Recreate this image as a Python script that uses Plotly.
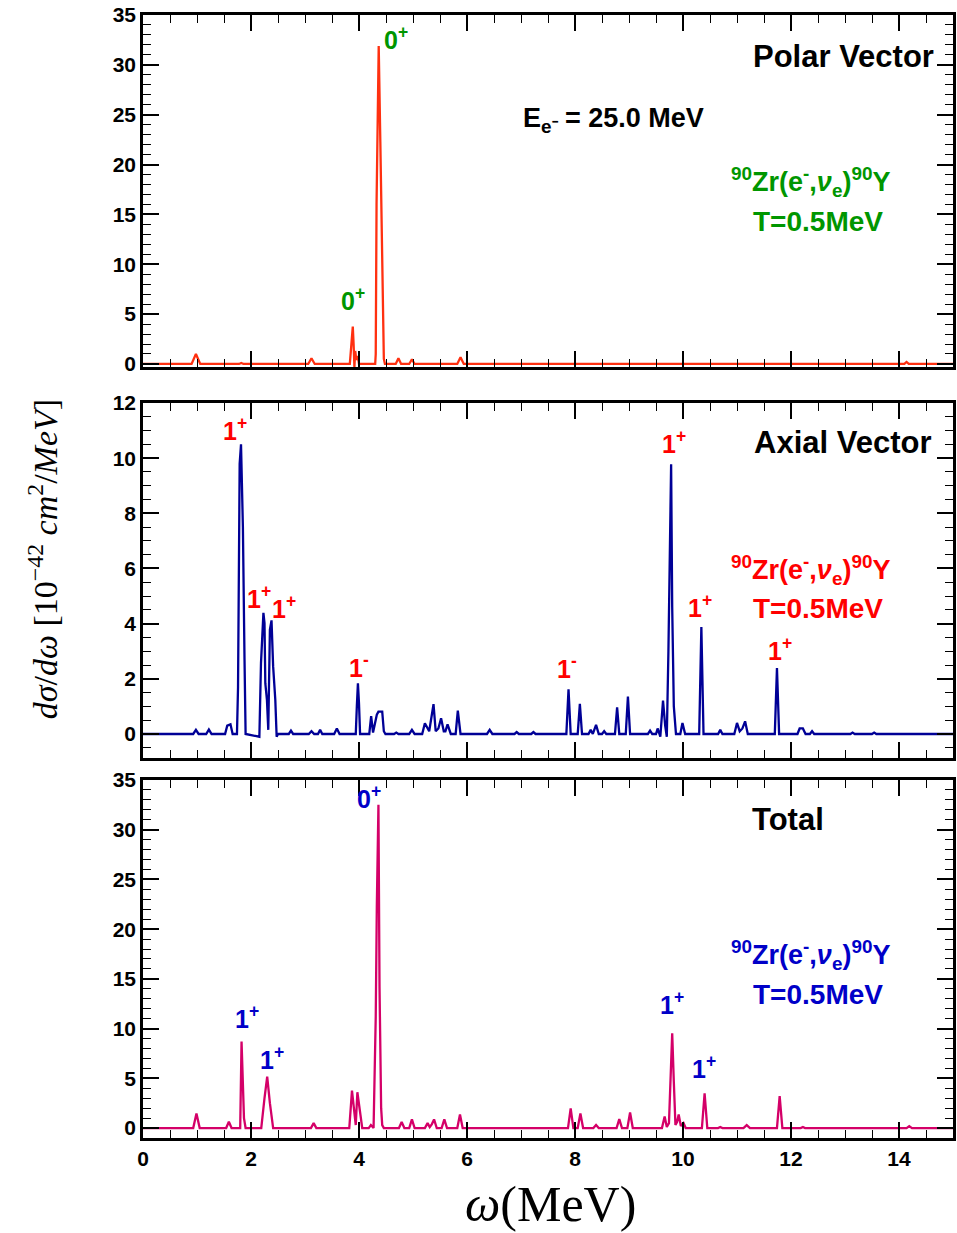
import plotly.graph_objects as go

# ---------------- data (omega in MeV, dsigma/domega in 1e-42 cm^2/MeV) ----------------
polar_x = [0, 0.90, 0.98, 1.06, 1.78, 1.82, 1.86, 3.06, 3.12, 3.18,
           3.83, 3.87, 3.885, 3.90, 3.915, 3.93, 3.95, 3.98, 4.00,
           4.30, 4.31, 4.325, 4.345, 4.365, 4.395, 4.43, 4.46, 4.48,
           4.68, 4.73, 4.78, 4.93, 4.98, 5.03, 5.82, 5.88, 5.94,
           14.10, 14.14, 14.18, 15.0]
polar_y = [0, 0, 1.0, 0, 0, 0.1, 0, 0, 0.57, 0,
           0, 3.0, 3.75, 2.0, -0.3, 1.3, 0.4, 0.8, 0,
           0, 1.0, 16.0, 26.7, 31.9, 22.3, 9.4, 0.5, 0,
           0, 0.57, 0, 0, 0.47, 0, 0, 0.67, 0,
           0, 0.2, 0, 0]

axial_x = [0, 0.93, 0.98, 1.03, 1.17, 1.22, 1.27, 1.52, 1.56, 1.62, 1.66,
           1.74, 1.76, 1.79, 1.815, 1.85, 1.88, 1.90,
           2.155, 2.185, 2.23, 2.25, 2.265, 2.295, 2.32, 2.35, 2.38, 2.41, 2.45, 2.475, 2.50,
           2.70, 2.74, 2.78, 3.07, 3.12, 3.17, 3.24, 3.28, 3.32, 3.54, 3.59, 3.64,
           3.94, 3.96, 3.98, 4.00, 4.02,
           4.19, 4.225, 4.26, 4.33, 4.36, 4.43, 4.46, 4.49,
           4.65, 4.69, 4.73, 4.93, 4.98, 5.03,
           5.17, 5.22, 5.30, 5.38, 5.42, 5.47, 5.52, 5.57, 5.60, 5.64, 5.70,
           5.79, 5.83, 5.88,
           6.37, 6.42, 6.47, 6.88, 6.92, 6.96, 7.19, 7.23, 7.27,
           7.84, 7.88, 7.92, 8.05, 8.09, 8.13,
           8.25, 8.29, 8.33, 8.39, 8.44, 8.50, 8.54, 8.58,
           8.74, 8.78, 8.82, 8.94, 8.98, 9.02,
           9.35, 9.39, 9.43, 9.50, 9.53, 9.58, 9.63, 9.67, 9.70,
           9.73, 9.76, 9.78, 9.80, 9.83, 9.87, 9.95, 9.99, 10.04,
           10.30, 10.34, 10.38, 10.65, 10.69, 10.73,
           10.95, 11.00, 11.05, 11.10, 11.15, 11.20,
           11.70, 11.74, 11.78, 12.12, 12.16, 12.22, 12.27, 12.35, 12.39, 12.43,
           13.10, 13.14, 13.18, 13.50, 13.54, 13.58, 15.0]
axial_y = [0, 0, 0.15, 0, 0, 0.16, 0, 0, 0.30, 0.35, 0,
           0, 1.7, 9.8, 10.5, 7.5, 2.7, 0,
           -0.1, 2.57, 4.39, 4.02, 1.84, 1.24, 0.15, 3.78, 4.12, 2.45, 1.24, -0.1, 0,
           0, 0.12, 0, 0, 0.1, 0, 0, 0.15, 0, 0, 0.2, 0,
           0, 1.0, 1.84, 1.1, 0,
           0, 0.65, 0.05, 0.7, 0.81, 0.81, 0.1, 0,
           0, 0.05, 0, 0, 0.15, 0,
           0, 0.39, 0.1, 1.08, 0.1, 0.2, 0.57, 0.1, 0.1, 0.35, 0,
           0, 0.85, 0,
           0, 0.15, 0, 0, 0.07, 0, 0, 0.07, 0,
           0, 1.62, 0, 0, 1.09, 0,
           0, 0.15, 0, 0.33, 0, 0, 0.1, 0,
           0, 0.97, 0, 0, 1.36, 0,
           0, 0.12, 0, 0, 0.2, -0.1, 1.21, 0.3, -0.1,
           3.0, 6.7, 9.78, 4.6, 1.0, 0, 0, 0.4, 0,
           0, 3.88, 0, 0, 0.15, 0,
           0, 0.4, 0.1, 0.2, 0.46, 0,
           0, 2.39, 0, 0, 0.2, 0.2, 0, 0, 0.1, 0,
           0, 0.05, 0, 0, 0.05, 0, 0]

total_x = [0, 0.93, 0.99, 1.05, 1.54, 1.59, 1.64,
           1.80, 1.825, 1.85, 1.87, 1.90,
           2.19, 2.25, 2.30, 2.35, 2.41,
           3.11, 3.16, 3.21, 3.82, 3.87, 3.91, 3.94, 3.97, 4.01, 4.06,
           4.18, 4.22, 4.27, 4.31, 4.33, 4.36, 4.38, 4.41, 4.43, 4.46,
           4.74, 4.79, 4.84, 4.93, 4.98, 5.03,
           5.22, 5.27, 5.31, 5.35, 5.39, 5.44, 5.53, 5.58, 5.63, 5.82, 5.87, 5.92,
           7.87, 7.92, 7.97, 8.05, 8.10, 8.15, 8.34, 8.39, 8.44,
           8.77, 8.82, 8.87, 8.97, 9.02, 9.07,
           9.61, 9.66, 9.70, 9.74, 9.80, 9.83, 9.86, 9.89, 9.92, 9.96, 10.01, 10.05,
           10.35, 10.40, 10.45, 10.65, 10.69, 10.73, 11.12, 11.18, 11.24,
           11.74, 11.79, 11.84, 12.18, 12.22, 12.26, 14.14, 14.19, 14.24, 15.0]
total_y = [0, 0, 1.47, 0, 0, 0.64, 0,
           0, 8.69, 5.3, 1.0, 0,
           0, 3.0, 5.16, 2.5, 0,
           0, 0.5, 0, 0, 3.76, 1.5, 0.3, 3.6, 2.0, 0,
           0, 0.3, 0, 11.2, 22.3, 32.5, 14.2, 2.0, 0.3, 0,
           0, 0.6, 0, 0, 0.87, 0,
           0, 0.5, 0.1, 0.4, 0.87, 0, 0, 0.87, 0, 0, 1.37, 0,
           0, 1.98, 0, 0, 1.47, 0, 0, 0.3, 0,
           0, 0.9, 0, 0, 1.57, 0,
           0, 1.17, 0.1, 0.5, 9.53, 4.66, 0.3, 0.6, 1.37, 0.2, 0.5, 0,
           0, 3.49, 0, 0, 0.1, 0, 0, 0.3, 0,
           0, 3.22, 0, 0, 0.1, 0, 0, 0.2, 0, 0]

x_ticks = [0, 2, 4, 6, 8, 10, 12, 14]
y_ticks_big = [0, 5, 10, 15, 20, 25, 30, 35]
y_ticks_axial = [0, 2, 4, 6, 8, 10, 12]

# ---------------- figure ----------------
fig = go.Figure()
fig.add_trace(go.Scatter(x=polar_x, y=polar_y, mode="lines", xaxis="x3", yaxis="y3",
                         line=dict(color="#ff3010", width=2.3), showlegend=False))
fig.add_trace(go.Scatter(x=axial_x, y=axial_y, mode="lines", xaxis="x2", yaxis="y2",
                         line=dict(color="#000096", width=2.3), showlegend=False))
fig.add_trace(go.Scatter(x=total_x, y=total_y, mode="lines", xaxis="x", yaxis="y",
                         line=dict(color="#d40068", width=2.3), showlegend=False))

tickfont = dict(family="Liberation Sans, Arial, sans-serif", size=21, color="black", weight="bold")


def xax(anchor, labels):
    return dict(range=[0, 15], anchor=anchor, domain=[0, 1], showline=True, linewidth=2.5,
                linecolor="black", mirror="allticks", ticks="inside", ticklen=16, tickwidth=1.5,
                tickcolor="black", tickvals=x_ticks, showticklabels=labels, tickfont=tickfont,
                showgrid=False, zeroline=False,
                minor=dict(ticks="inside", ticklen=8, tickwidth=1.2, dtick=0.5, tickcolor="black",
                           showgrid=False))


def yax(anchor, rng, dom, vals, mdt):
    return dict(range=rng, anchor=anchor, domain=dom, showline=True, linewidth=2.5,
                linecolor="black", mirror="allticks", ticks="inside", ticklen=16, tickwidth=1.5,
                tickcolor="black", tickvals=vals, tickfont=tickfont, showgrid=False,
                zeroline=False,
                minor=dict(ticks="inside", ticklen=8, tickwidth=1.2, dtick=mdt, tickcolor="black",
                           showgrid=False))


fig.update_layout(
    width=957, height=1233,
    margin=dict(l=143, r=1, t=15, b=95),
    plot_bgcolor="white", paper_bgcolor="white",
    xaxis=xax("y", True),
    xaxis2=xax("y2", False),
    xaxis3=xax("y3", False),
    yaxis=yax("x", [-1.0, 35], [0, 0.3188], y_ticks_big, 1),
    yaxis2=yax("x2", [-0.87, 12], [0.3384, 0.6545], y_ticks_axial, 0.5),
    yaxis3=yax("x3", [-0.3, 35], [0.6866, 1.0], y_ticks_big, 1),
)

bf = "Liberation Sans, Arial, sans-serif"
green = "#009600"
red = "#ff0000"
blue = "#0000c8"

ann = []


def lab(text, x, y, ax, color, size=25):
    ann.append(dict(text="<b>" + text + "</b>", x=x, y=y, xref=ax[0], yref=ax[1],
                    showarrow=False, font=dict(family=bf, size=size, color=color),
                    xanchor="center", yanchor="middle"))


top = ("x3", "y3")
mid = ("x2", "y2")
bot = ("x", "y")
reac = "<sup>90</sup>Zr(e<sup>-</sup>,<i>ν</i><sub>e</sub>)<sup>90</sup>Y"

# top panel
lab("0<sup>+</sup>", 4.68, 32.7, top, green)
lab("0<sup>+</sup>", 3.89, 6.5, top, green)
lab("Polar Vector", 12.97, 30.8, top, "black", 31)
lab("E<sub>e⁻</sub> = 25.0 MeV", 8.71, 24.5, top, "black", 27)
lab(reac, 12.36, 18.3, top, green, 27)
lab("T=0.5MeV", 12.5, 14.3, top, green, 28)

# middle panel
lab("1<sup>+</sup>", 1.71, 11.05, mid, red)
lab("1<sup>+</sup>", 2.14, 4.95, mid, red)
lab("1<sup>+</sup>", 2.62, 4.62, mid, red)
lab("1<sup>-</sup>", 4.0, 2.47, mid, red)
lab("1<sup>-</sup>", 7.86, 2.44, mid, red)
lab("1<sup>+</sup>", 9.83, 10.58, mid, red)
lab("1<sup>+</sup>", 10.31, 4.65, mid, red)
lab("1<sup>+</sup>", 11.79, 3.09, mid, red)
lab("Axial Vector", 12.95, 10.58, mid, "black", 31)
lab(reac, 12.36, 5.95, mid, red, 27)
lab("T=0.5MeV", 12.5, 4.55, mid, red, 28)

# bottom panel
lab("0<sup>+</sup>", 4.18, 33.3, bot, blue)
lab("1<sup>+</sup>", 1.92, 11.17, bot, blue)
lab("1<sup>+</sup>", 2.38, 7.04, bot, blue)
lab("1<sup>+</sup>", 9.80, 12.58, bot, blue)
lab("1<sup>+</sup>", 10.39, 6.14, bot, blue)
lab("Total", 11.95, 31.0, bot, "black", 31)
lab(reac, 12.36, 17.4, bot, blue, 27)
lab("T=0.5MeV", 12.5, 13.4, bot, blue, 28)

# axis titles
ann.append(dict(text="<i>dσ</i>/<i>dω</i> [10<sup>−42</sup> <i>cm</i><sup>2</sup>/<i>MeV</i>]",
                x=-0.124, y=0.515, xref="paper", yref="paper", textangle=-90,
                showarrow=False, font=dict(family="Liberation Serif, DejaVu Serif, serif",
                                           size=34, color="black"),
                xanchor="center", yanchor="middle"))
ann.append(dict(text="<i>ω</i>(MeV)", x=0.503, y=-0.059, xref="paper", yref="paper",
                showarrow=False, font=dict(family="Liberation Serif, DejaVu Serif, serif",
                                           size=50, color="black"),
                xanchor="center", yanchor="middle"))

fig.update_layout(annotations=ann)
fig.write_html(
    "out.html",
    config={"displayModeBar": False},
    post_script="document.body.style.margin='0';document.body.style.overflow='hidden';",
)
